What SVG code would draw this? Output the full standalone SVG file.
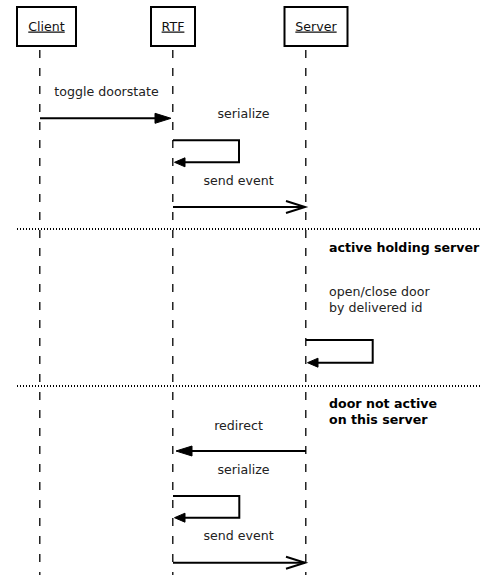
<svg xmlns="http://www.w3.org/2000/svg" width="486" height="575" viewBox="0 0 486 575">
<style>
.box{fill:#fff;stroke:#000;stroke-width:2}
.name{font-family:"DejaVu Sans",sans-serif;font-size:12.6px;fill:#111;text-anchor:middle;text-decoration:underline}
.life{stroke:#000;stroke-width:1.3;stroke-dasharray:8,10;fill:none}
.msg{stroke:#000;stroke-width:2;fill:none}
.head{fill:#000;stroke:#000;stroke-width:1}
.open{fill:none;stroke:#000;stroke-width:2}
.sep{stroke:#000;stroke-width:2;stroke-dasharray:1,2}
.lbl{font-family:"DejaVu Sans",sans-serif;font-size:12.6px;fill:#222}
.mid{text-anchor:middle}
.bold{font-family:"DejaVu Sans",sans-serif;font-size:12.6px;font-weight:bold;fill:#000}
</style>
<rect width="486" height="575" fill="#fff"/>
<g id="client">
<rect class="box" x="17" y="7" width="59" height="39"/>
<text class="name" x="46.5" y="30.5">Client</text>
<line class="life" x1="39.8" y1="50" x2="39.8" y2="575"/>
</g>
<g id="rtf">
<rect class="box" x="151" y="7" width="44" height="39"/>
<text class="name" x="173" y="30.5">RTF</text>
<line class="life" x1="172.8" y1="50" x2="172.8" y2="575"/>
</g>
<g id="server">
<rect class="box" x="284.5" y="7" width="63" height="39"/>
<text class="name" x="316" y="30.5">Server</text>
<line class="life" x1="305.8" y1="50" x2="305.8" y2="575"/>
</g>
<g id="connectors">
<line class="msg" x1="40" y1="118.3" x2="160" y2="118.3"/>
<polygon class="head" points="171,118.3 155,113.3 155,123.3"/>
<polyline class="msg" points="173,140.3 239,140.3 239,162.3 182,162.3"/>
<polygon class="head" points="174.5,162.3 185,157.8 185,166.8"/>
<line class="msg" x1="173" y1="207" x2="305" y2="207"/>
<polyline class="open" points="286,201 305,207 286,213"/>
<polyline class="msg" points="306,340 372.7,340 372.7,362.7 315,362.7"/>
<polygon class="head" points="307.5,362.7 318,358.2 318,367.2"/>
<line class="msg" x1="306" y1="451" x2="188" y2="451"/>
<polygon class="head" points="176,451 192,446 192,456"/>
<polyline class="msg" points="173,496 239.3,496 239.3,517.7 182,517.7"/>
<polygon class="head" points="174.5,517.7 185,513.2 185,522.2"/>
<line class="msg" x1="173" y1="562.7" x2="305" y2="562.7"/>
<polyline class="open" points="286,556.7 305,562.7 286,568.7"/>
</g>
<g id="separators">
<line class="sep" x1="17" y1="229" x2="482" y2="229"/>
<line class="sep" x1="17" y1="386" x2="482" y2="386"/>
</g>
<g id="labels">
<text class="lbl mid" x="106.5" y="96">toggle doorstate</text>
<text class="lbl mid" x="243.5" y="118">serialize</text>
<text class="lbl mid" x="238.5" y="185">send event</text>
<text class="bold" x="329" y="251.5">active holding server</text>
<text class="lbl" x="329" y="296">open/close door</text>
<text class="lbl" x="329" y="312">by delivered id</text>
<text class="bold" x="329" y="408">door not active</text>
<text class="bold" x="329" y="424">on this server</text>
<text class="lbl mid" x="238.5" y="429.5">redirect</text>
<text class="lbl mid" x="243.5" y="474">serialize</text>
<text class="lbl mid" x="238.5" y="540">send event</text>
</g>
</svg>
